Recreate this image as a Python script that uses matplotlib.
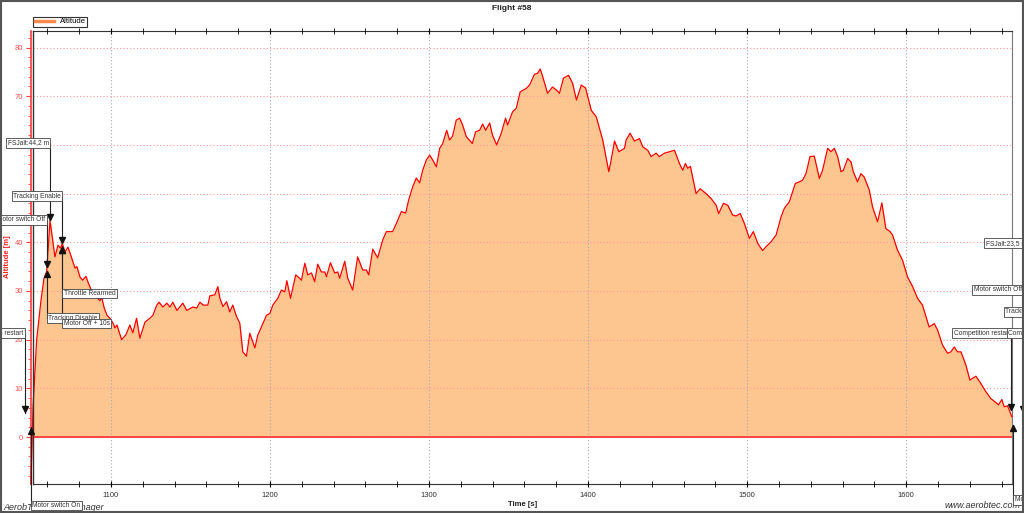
import numpy as np
import matplotlib
matplotlib.use('Agg')
import matplotlib.pyplot as plt
from matplotlib.lines import Line2D
from matplotlib.patches import Rectangle

plt.rcParams['font.family'] = ['Liberation Sans', 'DejaVu Sans']

# --- DATOS: altitud del vuelo #58 ---
time_s = [
    1049.7, 1051.0, 1053.3, 1056.0, 1057.9, 1059.6, 1061.7, 1064.8, 1066.7, 1068.4,
    1069.4, 1071.1, 1073.0, 1075.3, 1077.4, 1078.6, 1080.5, 1082.2, 1084.3, 1085.6,
    1088.1, 1093.1, 1094.2, 1095.6, 1097.5, 1099.4, 1101.3, 1102.5, 1103.8, 1106.7,
    1109.4, 1111.9, 1113.8, 1116.1, 1118.2, 1121.4, 1124.5, 1126.4, 1128.7, 1130.2,
    1132.7, 1135.2, 1137.1, 1138.9, 1141.5, 1145.2, 1147.7, 1151.5, 1154.0, 1155.9,
    1158.0, 1160.9, 1162.2, 1165.3, 1167.2, 1168.5, 1170.4, 1172.7, 1174.7, 1176.6,
    1179.0, 1181.0, 1182.9, 1185.2, 1187.3, 1190.5, 1192.3, 1197.8, 1199.9, 1201.8,
    1204.9, 1207.2, 1209.3, 1210.6, 1212.9, 1216.2, 1218.7, 1219.8, 1221.9, 1223.7,
    1226.1, 1228.1, 1230.0, 1232.3, 1234.4, 1235.5, 1238.0, 1240.7, 1242.6, 1243.8,
    1247.0, 1248.9, 1252.0, 1255.1, 1258.3, 1260.6, 1262.1, 1264.6, 1267.7, 1270.9,
    1273.2, 1277.1, 1279.5, 1282.6, 1285.3, 1287.2, 1289.7, 1292.0, 1294.1, 1296.0,
    1298.3, 1300.4, 1302.3, 1304.6, 1306.7, 1308.5, 1311.1, 1312.9, 1314.8, 1317.1,
    1319.2, 1321.1, 1323.4, 1327.2, 1329.3, 1331.8, 1333.7, 1335.6, 1338.1, 1339.9,
    1342.5, 1345.4, 1348.1, 1349.4, 1352.5, 1354.8, 1357.3, 1361.1, 1363.2, 1366.3,
    1368.2, 1369.9, 1371.4, 1374.5, 1377.6, 1380.0, 1382.0, 1384.5, 1387.7, 1390.2,
    1392.7, 1395.7, 1398.4, 1402.0, 1405.1, 1409.2, 1413.0, 1414.5, 1416.6, 1419.3,
    1422.9, 1423.9, 1426.4, 1429.1, 1432.3, 1434.4, 1437.5, 1439.6, 1442.8, 1444.8,
    1448.0, 1451.1, 1454.3, 1457.4, 1459.5, 1461.2, 1462.6, 1464.3, 1467.9, 1470.4,
    1474.2, 1477.3, 1480.5, 1482.1, 1485.1, 1487.8, 1490.9, 1493.0, 1495.6, 1498.2,
    1501.4, 1503.9, 1506.6, 1509.7, 1511.9, 1515.0, 1518.2, 1521.3, 1523.4, 1526.5,
    1530.3, 1532.8, 1534.9, 1537.0, 1539.5, 1542.2, 1545.4, 1547.4, 1550.6, 1552.7,
    1554.8, 1556.9, 1559.0, 1560.5, 1563.2, 1565.3, 1566.7, 1569.4, 1571.5, 1573.6,
    1576.8, 1578.8, 1582.0, 1584.7, 1587.2, 1589.8, 1591.4, 1594.5, 1597.7, 1600.8,
    1604.0, 1607.1, 1610.2, 1614.4, 1617.6, 1619.7, 1622.8, 1626.0, 1628.1, 1630.2,
    1632.2, 1634.4, 1637.5, 1640.0, 1643.8, 1646.9, 1650.1, 1653.2, 1655.9, 1658.0,
    1660.1, 1661.6, 1663.7, 1666.4,
]
altitude_m = [
    -9.7, 6.0, 20.0, 28.0, 32.6, 34.0, 44.5, 37.0, 39.4, 38.8,
    39.8, 38.0, 39.0, 36.8, 34.7, 35.0, 32.9, 32.2, 33.0, 31.8,
    29.8, 28.0, 28.7, 26.7, 25.0, 24.4, 23.4, 22.4, 23.0, 20.0,
    21.0, 23.0, 21.4, 24.4, 20.3, 23.6, 24.4, 25.0, 27.0, 27.7,
    26.7, 27.5, 26.7, 27.7, 26.0, 27.5, 26.0, 26.7, 26.5, 27.7,
    27.1, 27.1, 29.0, 29.2, 30.9, 28.5, 26.8, 27.8, 25.7, 27.1,
    24.7, 23.4, 17.5, 16.6, 21.3, 18.3, 20.9, 25.0, 25.4, 27.1,
    28.5, 30.2, 29.8, 32.1, 28.5, 33.3, 32.6, 32.2, 35.7, 33.3,
    33.7, 31.9, 35.5, 33.9, 33.9, 32.9, 35.8, 33.7, 33.9, 32.6,
    36.1, 32.6, 30.2, 37.0, 34.3, 34.3, 33.3, 38.6, 36.8, 40.5,
    42.2, 42.2, 43.9, 46.3, 46.0, 48.7, 51.4, 53.2, 52.2, 54.8,
    56.9, 57.9, 56.9, 55.5, 59.3, 60.2, 63.0, 61.0, 61.8, 65.1,
    65.5, 64.1, 61.7, 60.3, 62.7, 63.0, 64.3, 63.0, 64.5, 62.0,
    60.0, 62.4, 65.5, 64.1, 66.8, 67.5, 70.9, 71.6, 72.3, 74.5,
    74.7, 75.6, 74.1, 70.6, 71.9, 71.3, 70.6, 73.7, 74.3, 72.7,
    69.2, 72.3, 71.7, 67.1, 65.8, 61.0, 54.5, 56.9, 60.8, 58.6,
    59.3, 61.0, 62.4, 60.8, 61.3, 59.6, 58.9, 57.6, 58.3, 57.6,
    58.3, 58.6, 58.9, 56.2, 54.8, 56.2, 55.2, 55.6, 50.0, 51.0,
    50.0, 49.0, 47.6, 45.9, 48.0, 47.6, 45.6, 45.4, 45.9, 43.9,
    40.8, 42.2, 39.8, 38.3, 39.1, 40.1, 41.5, 45.2, 47.0, 48.3,
    52.1, 52.4, 52.8, 54.1, 57.6, 57.7, 53.1, 54.8, 59.3, 58.6,
    59.3, 57.6, 54.5, 54.8, 57.2, 56.5, 54.5, 52.4, 54.1, 53.4,
    50.7, 47.3, 44.2, 48.1, 42.8, 42.2, 41.5, 38.4, 36.3, 32.9,
    30.9, 28.5, 27.1, 22.6, 23.3, 22.0, 18.9, 17.2, 17.5, 18.5,
    17.5, 17.5, 14.8, 11.7, 12.5, 11.0, 9.3, 7.9, 7.2, 6.6,
    7.7, 6.2, 6.4, 4.2,
]

# --- EVENTOS ---
event_labels = ['Competition restart', 'Motor switch On', 'Motor switch Off',
                'Tracking Disable', 'FSJalt:44,2 m', 'Tracking Enable',
                'Throttle Rearmed', 'Motor Off + 10s', 'Competition restart',
                'Motor switch On', 'Motor switch Off', 'FSJalt:23,5 m',
                'Tracking Enable', 'Competition restart']
event_times = [1046.0, 1049.7, 1059.6, 1059.6, 1061.7, 1069.4, 1069.4, 1069.4,
               1666.0, 1667.2, 1673.5, 1676.5, 1693.0, 1700.5]
event_alts = [5.0, 2.0, 34.9, 34.2, 44.5, 39.8, 39.2, 39.2,
              5.5, 2.5, 5.0, 23.5, 5.0, 5.0]
event_up = [False, True, False, True, False, False, True, True,
            False, True, False, False, False, False]
# altura (m) a la que va cada cuadro de texto
label_levels = [21.3, -14.1, 44.6, 24.4, 60.4, 49.5, 29.5, 23.3,
                21.3, -12.9, 30.2, 39.8, 25.7, 21.3]

fig = plt.figure(figsize=(10.24, 5.13), dpi=100)
ax = fig.add_axes([33/1024, 29/513, (1012-33)/1024, (484-31)/513])

# --- CURVA DE ALTITUD ---
ax.fill_between(time_s[1:], 0, altitude_m[1:], color='#fdc590', lw=0, zorder=1)
ax.plot(time_s, altitude_m, color='#ff0000', lw=0.9, zorder=3, clip_on=False)
ax.axhline(0, color='#ff3b3b', lw=1.3, zorder=3)

ax.set_xlim(1051, 1666.5)
ax.set_ylim(-9.65, 83.4)

# --- EJES ---
ax.set_xticks(np.arange(1100, 1601, 100))
ax.set_xticks(np.arange(1060, 1666, 20), minor=True)
ax.set_yticks(np.arange(0, 81, 10))
ax.set_yticks(np.arange(-8, 84, 2), minor=True)

ax.tick_params(axis='x', which='major', direction='inout', length=5, width=0.8,
               top=True, labelsize=5.5, labelcolor='#333333', pad=3)
ax.tick_params(axis='x', which='minor', direction='inout', length=4, width=0.6, top=True)
ax.tick_params(axis='y', which='major', direction='out', length=3.5, width=0.8,
               color='#ff3b3b', labelcolor='#ff5050', labelsize=5.5, pad=2)
ax.tick_params(axis='y', which='minor', direction='out', length=2, width=0.6,
               color='#ff3b3b')

ax.spines['left'].set_position(('outward', 1.8))
ax.spines['left'].set_color('#ff3b3b')
ax.spines['left'].set_linewidth(1.2)
ax.spines['right'].set_color('#777777')
ax.spines['top'].set_color('#333333')
ax.spines['bottom'].set_color('#333333')
ax.plot([0, 0], [0, 1], transform=ax.transAxes, color='#333333', lw=1, clip_on=False, zorder=4)

ax.set_axisbelow(False)
ax.grid(axis='x', which='major', color='#aaaaaa', ls=(0, (1, 2)), lw=0.8)
ax.grid(axis='y', which='major', color='#ff9c9c', ls=(0, (1, 2)), lw=0.8)

# --- ANOTACIONES DE EVENTOS ---
box = dict(boxstyle='square,pad=0.2', fc='white', ec='#444444', lw=0.6)
for lab, t, a, up, lev in zip(event_labels, event_times, event_alts, event_up, label_levels):
    ax.plot([t, t], [lev, a], color='#222222', lw=0.8, zorder=4, clip_on=False)
    if up:
        ax.plot([t], [a - 0.7], marker='^', ms=4.5, color='#111111', zorder=5, clip_on=False)
        ax.annotate(lab, xy=(t, lev), xytext=(1, 0), textcoords='offset points',
                    ha='left', va='center', fontsize=4.8, color='#333333', bbox=box,
                    zorder=6, annotation_clip=False)
    else:
        ax.plot([t], [a + 0.7], marker='v', ms=4.5, color='#111111', zorder=5, clip_on=False)
        ax.annotate(lab, xy=(t, lev), xytext=(-1, 0), textcoords='offset points',
                    ha='right', va='center', fontsize=4.8, color='#333333', bbox=box,
                    zorder=6, annotation_clip=False)

# --- TEXTOS ---
fig.text(512/1024, 1 - 8/513, 'Flight #58', ha='center', va='center',
         fontsize=6, fontweight='bold', color='#222222')
fig.text(522.5/1024, 1 - 505/513, 'Time [s]', ha='center', va='center',
         fontsize=5.6, fontweight='bold', color='#222222')
fig.text(8/1024, 1 - 257/513, 'Altitude [m]', ha='center', va='center', rotation=90,
         fontsize=5.5, fontweight='bold', color='#ff2020')
fig.text(3/1024, 1 - 507/513, 'AerobTec Flight Manager', ha='left', va='center',
         fontsize=6.5, style='italic', color='#333333', zorder=-1)
fig.text(1021/1024, 1 - 506/513, 'www.aerobtec.com', ha='right', va='center',
         fontsize=6.5, style='italic', color='#333333', zorder=-1)

leg = fig.legend(handles=[Line2D([], [], color='#ff8a50', lw=2.5)], labels=['Altitude'],
                 loc='lower left', bbox_to_anchor=(33/1024, 1 - 27/513), fontsize=5.5,
                 frameon=True, fancybox=False, edgecolor='#333333', framealpha=1,
                 borderpad=0.2, handlelength=2.6, handletextpad=0.7, borderaxespad=0)
leg.get_frame().set_linewidth(0.8)

fig.add_artist(Rectangle((0.001, 0.002), 0.998, 0.996, transform=fig.transFigure,
                         fill=False, ec='#555555', lw=1.5))

fig.savefig('out.png', dpi=100)
